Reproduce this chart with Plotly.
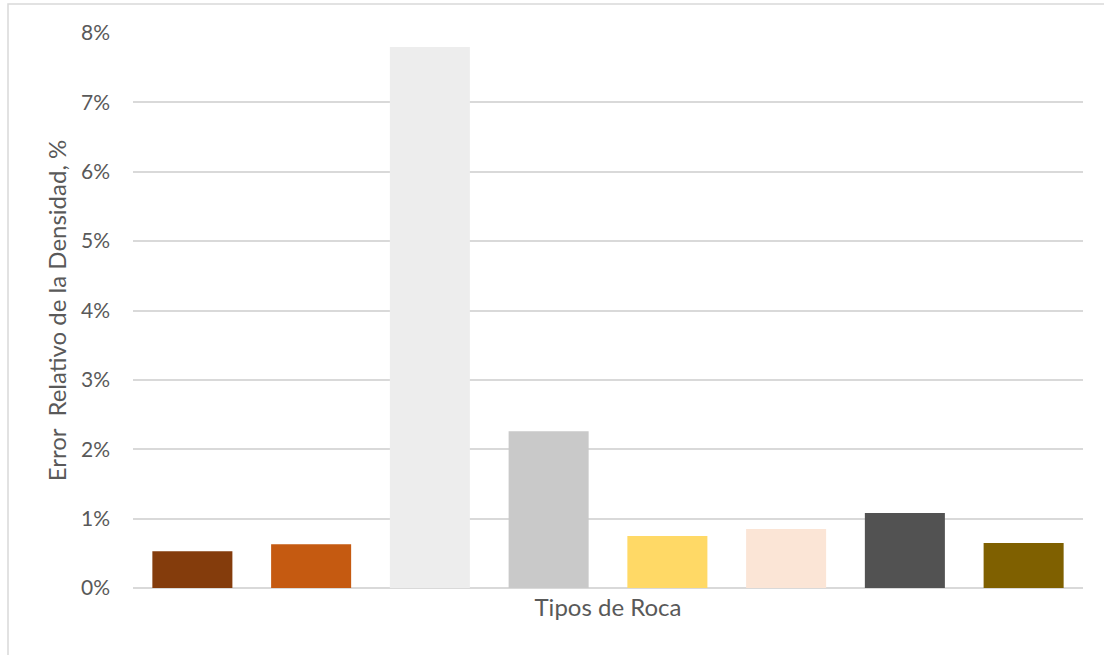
import plotly.graph_objects as go

categories = ["Roca 1", "Roca 2", "Roca 3", "Roca 4", "Roca 5", "Roca 6", "Roca 7", "Roca 8"]
values = [0.0053, 0.0063, 0.078, 0.0226, 0.0075, 0.0085, 0.0108, 0.0065]
colors = ["#843C0C", "#C55A11", "#EDEDED", "#C9C9C9", "#FFD966", "#FBE5D6", "#525252", "#7F6000"]
y_ticks = [0, 0.01, 0.02, 0.03, 0.04, 0.05, 0.06, 0.07, 0.08]

W, H = 1104, 655
L, R, T, B = 133, 21, 33, 67
pw, ph = W - L - R, H - T - B

fig = go.Figure()
fig.add_trace(go.Bar(x=categories, y=values, marker=dict(color=colors, line=dict(width=0)),
                     hoverinfo="x+y"))

fig.update_layout(
    width=W, height=H,
    margin=dict(l=L, r=R, t=T, b=B),
    plot_bgcolor="white", paper_bgcolor="white",
    bargap=0.326,
    showlegend=False,
    font=dict(family="Lato, Open Sans, sans-serif", color="#595959", size=21),
    xaxis=dict(showticklabels=False, showgrid=False, zeroline=False, showline=False,
               title=dict(text="Tipos de Roca", standoff=11, font=dict(size=24))),
    yaxis=dict(range=[0, 0.08], tickvals=y_ticks, tickformat=".0%",
               showgrid=True, gridcolor="#D9D9D9", gridwidth=2,
               zeroline=True, zerolinecolor="#D9D9D9", zerolinewidth=2,
               showline=False, ticklabelstandoff=22,
               tickfont=dict(size=21),
               title=dict(text="Error  Relativo de la Densidad, %", standoff=7, font=dict(size=24))),
    shapes=[dict(type="rect", xref="paper", yref="paper",
                 x0=(8 - L) / pw, x1=(W + 5 - L) / pw,
                 y0=-(H + 5 - (T + ph)) / ph, y1=1 + (T - 4) / ph,
                 line=dict(color="#D9D9D9", width=1.5), fillcolor="rgba(0,0,0,0)", layer="below")],
)

fig.write_html("out.html")
